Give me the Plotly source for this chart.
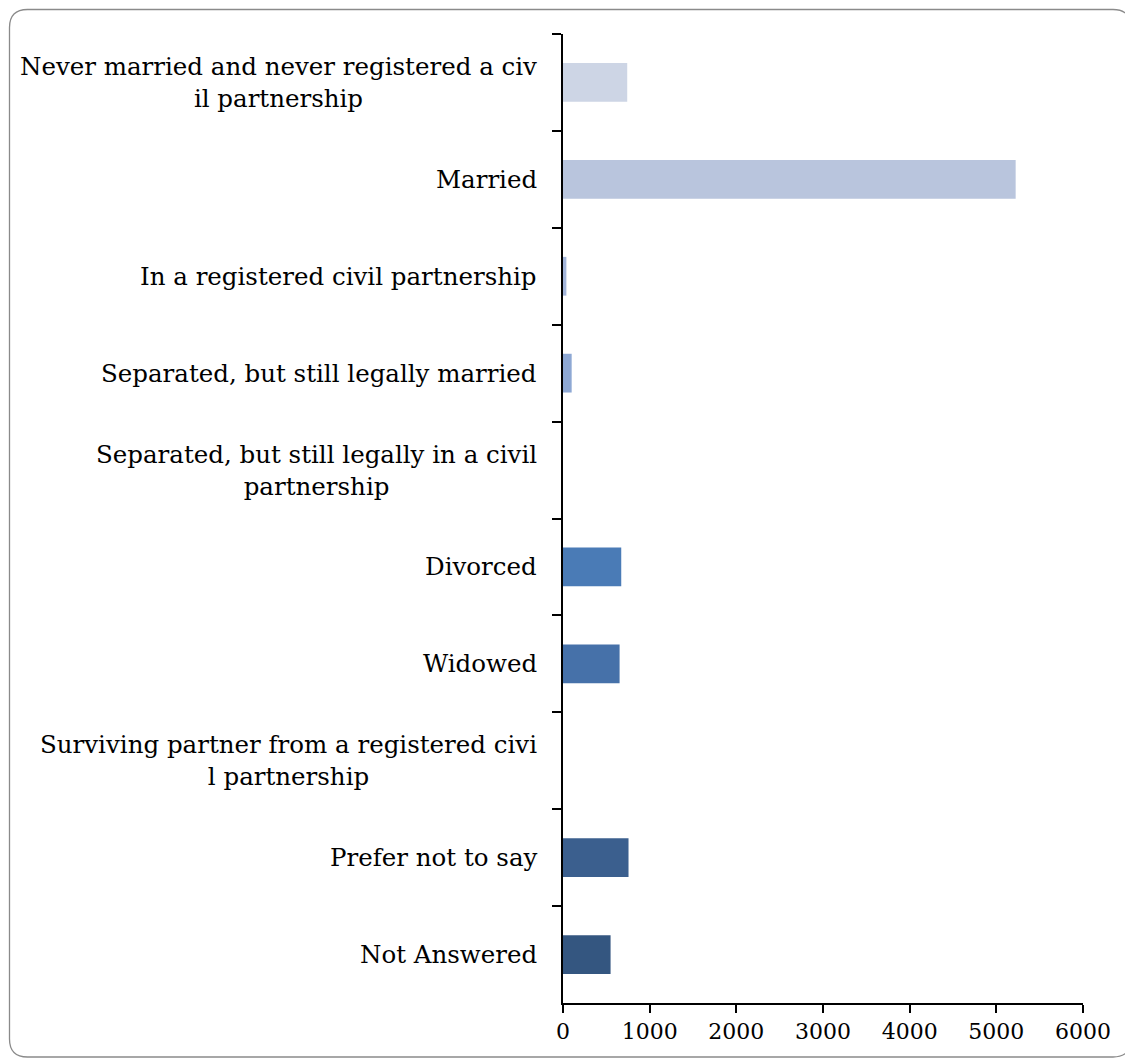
import plotly.graph_objects as go

categories = [
    "Never married and never registered a civ<br>il partnership",
    "Married",
    "In a registered civil partnership",
    "Separated, but still legally married",
    "Separated, but still legally in a civil<br>partnership",
    "Divorced",
    "Widowed",
    "Surviving partner from a registered civi<br>l partnership",
    "Prefer not to say",
    "Not Answered",
]
values = [741, 5223, 39, 100, 0, 672, 653, 0, 756, 549]
colors = ["#cdd5e5", "#b9c5dd", "#a3b5d9", "#8ea8d4", "#6a8fc5", "#4a7bb6",
          "#4671a9", "#41689c", "#3b5f8e", "#345680"]
x_ticks = [0, 1000, 2000, 3000, 4000, 5000, 6000]

OFF = 8  # default page body margin
W, H = 1133 - OFF, 1060 - OFF
L, T = 563 - OFF, 34 - OFF
pw, ph = 520, 969
R, B = W - L - pw, H - T - ph

fig = go.Figure()
fig.add_trace(go.Bar(
    y=categories, x=values, orientation="h",
    marker=dict(color=colors, line=dict(width=0)),
    showlegend=False,
))

font_family = "DejaVu Serif"
annotations = []
for c in categories:
    annotations.append(dict(
        x=0, y=c, xref="paper", yref="y", text=c, showarrow=False,
        xanchor="right", yanchor="middle", align="center", xshift=-24,
        font=dict(family=font_family, size=24.5, color="#000000"),
    ))

def px(x):
    return (x - OFF - L) / pw

def py(y):
    return (T + ph - (y - OFF)) / ph

x0, x1, y0, y1, r = 9.5, 1131, 9.5, 1057, 18
path = (f"M {px(x0 + r)} {py(y0)} L {px(x1 - r)} {py(y0)} "
        f"Q {px(x1)} {py(y0)} {px(x1)} {py(y0 + r)} "
        f"L {px(x1)} {py(y1 - r)} Q {px(x1)} {py(y1)} {px(x1 - r)} {py(y1)} "
        f"L {px(x0 + r)} {py(y1)} Q {px(x0)} {py(y1)} {px(x0)} {py(y1 - r)} "
        f"L {px(x0)} {py(y0 + r)} Q {px(x0)} {py(y0)} {px(x0 + r)} {py(y0)} Z")

fig.update_layout(
    width=W, height=H,
    margin=dict(l=L, r=R, t=T, b=B, pad=0),
    paper_bgcolor="white", plot_bgcolor="white",
    bargap=0.6,
    annotations=annotations,
    shapes=[dict(type="path", xref="paper", yref="paper", path=path,
                 line=dict(color="#8a8a8a", width=1.3), layer="below")],
    xaxis=dict(
        range=[0, 6000], tickvals=x_ticks, ticktext=[str(v) for v in x_ticks],
        showgrid=False, zeroline=False, showline=True, linecolor="#000000", linewidth=1.5,
        ticks="outside", ticklen=8, tickwidth=1.5, tickcolor="#000000",
        tickfont=dict(family=font_family, size=22, color="#000000"),
    ),
    yaxis=dict(
        autorange="reversed", showgrid=False, zeroline=False,
        showline=True, linecolor="#000000", linewidth=1.5,
        ticks="outside", ticklen=9, tickwidth=1.5, tickcolor="#000000",
        tickson="boundaries", showticklabels=False,
    ),
)

fig.write_html("out.html")
